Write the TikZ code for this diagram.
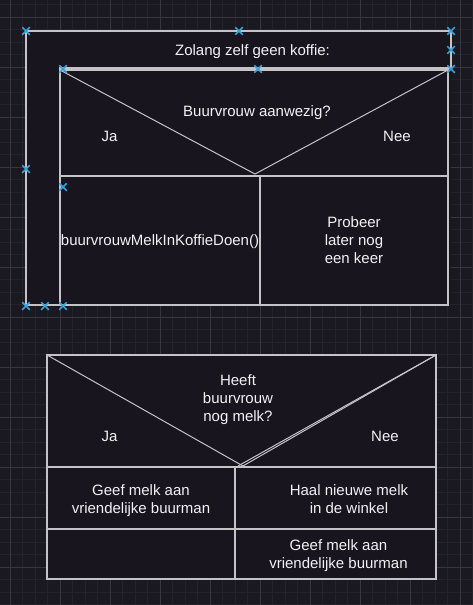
\documentclass[tikz,border=0pt]{standalone}
\usepackage{fontspec}
\setmainfont{Liberation Sans}
\usetikzlibrary{shapes.misc}
\definecolor{bgc}{RGB}{26,24,32}
\definecolor{boxc}{RGB}{24,21,30}
\definecolor{gminor}{RGB}{36,34,42}
\definecolor{gmajor}{RGB}{56,54,62}
\definecolor{linec}{RGB}{196,196,198}
\definecolor{txtc}{RGB}{242,242,242}
\definecolor{mkc}{RGB}{58,160,214}
\tikzset{
  ln/.style={draw=linec, line width=1.2pt, line join=miter},
  txt/.style={text=txtc, inner sep=0pt, anchor=base, align=center,
    font=\fontsize{15}{18}\selectfont},
  mk/.style={cross out, draw=mkc, line width=1.5pt, minimum size=6pt, inner sep=0pt},
}
\begin{document}
\begin{tikzpicture}[x=1pt,y=-1pt]
\fill[bgc] (0,0) rectangle (472,605);
\useasboundingbox (0,0) rectangle (472,605);
% grid
\foreach \i in {0,...,39} \draw[gminor, line width=0.8pt] ({-2.5+12.5*\i},0) -- ({-2.5+12.5*\i},605);
\foreach \i in {0,...,48} \draw[gminor, line width=0.8pt] (0,{4.5+12.5*\i}) -- (472,{4.5+12.5*\i});
\foreach \i in {0,...,9} \draw[gmajor, line width=0.8pt] ({10+50*\i},0) -- ({10+50*\i},605);
\foreach \i in {0,...,11} \draw[gmajor, line width=0.8pt] (0,{17+50*\i}) -- (472,{17+50*\i});

% ---------- diagram 1 ----------
\coordinate (L1) at (26,31);
\coordinate (R1) at (451,31);
\fill[boxc] (26,31) rectangle (451,305);
\draw[ln] (26,31) -- (451,31) -- (451,68) -- (60,68) -- (60,305) -- (26,305) -- cycle;
\coordinate (ifA) at (60,70);
\coordinate (ifB) at (448,70);
\coordinate (ifC) at (448,305);
\coordinate (ifD) at (60,305);
\coordinate (vbot) at (255,174);
\draw[ln] (ifA) rectangle (ifC);
\draw[ln] (60,176) -- (448,176);
\draw[ln] (260,176) -- (260,305);
\draw[ln, line width=1pt] (ifA) -- (vbot) -- (ifB);

\node[txt] (t1) at (252.5,55) {Zolang zelf geen koffie:};
\node[txt] (t2) at (257,116) {Buurvrouw aanwezig?};
\node[txt] (t3) at (109.5,141) {Ja};
\node[txt] (t4) at (397,141) {Nee};
\node[txt] (t5) at (160,245.5) {buurvrouwMelkInKoffieDoen()};
\node[txt] (t6) at (354,263.7) {Probeer\\later nog\\een keer};

% markers
\node[mk] (m1) at (26,31) {};
\node[mk] (m2) at (239,31) {};
\node[mk] (m3) at (451,31) {};
\node[mk] (m4) at (451,50) {};
\node[mk] (m5) at (451,69) {};
\node[mk] (m6) at (258,69) {};
\node[mk] (m7) at (63,69) {};
\node[mk] (m8) at (26,169) {};
\node[mk] (m9) at (63,187) {};
\node[mk] (m10) at (26,306) {};
\node[mk] (m11) at (45,306) {};
\node[mk] (m12) at (63,306) {};

% ---------- diagram 2 ----------
\coordinate (A2) at (47,355);
\coordinate (B2) at (436,355);
\coordinate (C2) at (436,579);
\coordinate (V2) at (243,466);
\fill[boxc] (A2) rectangle (C2);
\draw[ln] (A2) rectangle (C2);
\draw[ln] (47,467) -- (436,467);
\draw[ln] (47,529) -- (436,529);
\draw[ln] (235,467) -- (235,579);
\draw[ln, line width=1pt] (A2) -- (V2);
\draw[ln, line width=1pt] (238,466) -- (B2);
\draw[ln, line width=1pt] (242,466.5) -- (B2);

\node[txt] (u1) at (238,421.7) {Heeft\\buurvrouw\\nog melk?};
\node[txt] (u2) at (109.5,441) {Ja};
\node[txt] (u3) at (385,441) {Nee};
\node[txt] (u4) at (141,513) {Geef melk aan\\vriendelijke buurman};
\node[txt] (u5) at (349,513) {Haal nieuwe melk\\in de winkel};
\node[txt] (u6) at (338.5,568.7) {Geef melk aan\\vriendelijke buurman};
\end{tikzpicture}
\end{document}
